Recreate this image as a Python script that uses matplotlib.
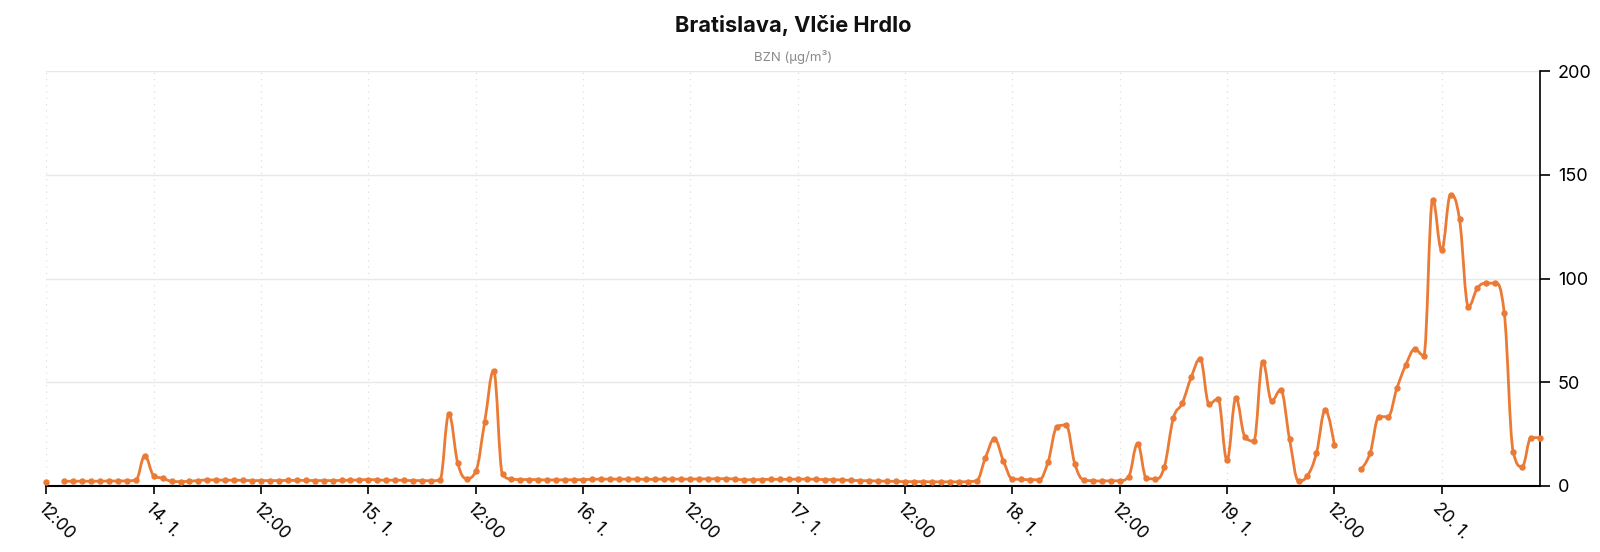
import numpy as np
import pandas as pd
import matplotlib
matplotlib.use('Agg')
import matplotlib.pyplot as plt
import matplotlib.dates as mdates
from matplotlib.path import Path
from matplotlib.patches import PathPatch

plt.rcParams['font.family'] = ['Inter', 'DejaVu Sans']

nan = np.nan

# hodinove hodnoty BZN (ug/m3), 13.1. 12:00 az 20.1. 11:00
jan13 = [2.1, nan, 2.2, 2.3, 2.3, 2.3, 2.3, 2.4, 2.4, 2.5, 2.8, 14.5]  # 12-23h
jan14 = [5.0, 3.7, 2.3, 2.1, 2.3, 2.6, 2.9, 2.9, 2.8, 2.8, 2.7, 2.6,
         2.6, 2.6, 2.6, 2.7, 2.7, 2.7, 2.6, 2.6, 2.6, 2.7, 2.8, 2.9]
jan15 = [3.1, 2.9, 2.8, 2.8, 2.7, 2.6, 2.6, 2.5, 2.9, 34.6, 10.9, 3.6,
         7.0, 30.7, 55.5, 5.6, 3.3, 3.1, 3.1, 3.0, 2.9, 2.9, 3.0, 3.0]
jan16 = [3.1, 3.2, 3.3, 3.3, 3.3, 3.3, 3.3, 3.2, 3.2, 3.3, 3.3, 3.3,
         3.3, 3.4, 3.4, 3.5, 3.5, 3.3, 3.0, 3.0, 3.1, 3.2, 3.2, 3.2]
jan17 = [3.3, 3.3, 3.2, 3.1, 3.0, 2.9, 2.7, 2.6, 2.5, 2.4, 2.3, 2.2,
         2.1, 2.1, 2.1, 2.0, 2.0, 2.0, 2.0, 2.1, 2.5, 13.7, 22.7, 12.1]
jan18 = [3.4, 3.2, 3.0, 3.0, 11.7, 28.6, 29.4, 10.5, 2.9, 2.5, 2.4, 2.5,
         2.5, 4.5, 20.3, 3.7, 3.4, 9.3, 32.6, 39.9, 52.4, 61.3, 39.6, 42.0]
jan19 = [12.5, 42.3, 23.8, 21.7, 60.0, 41.0, 46.3, 22.5, 2.4, 5.0, 15.8, 36.7,
         19.8, nan, nan, 8.0, 15.8, 33.4, 33.4, 47.1, 58.4, 65.9, 62.9, 138.0]
jan20 = [113.8, 140.4, 128.6, 86.5, 95.4, 97.8, 97.8, 83.6, 16.6, 9.3, 23.3, 23.3]  # 0-11h

values = np.array(jan13 + jan14 + jan15 + jan16 + jan17 + jan18 + jan19 + jan20)
times = pd.date_range('2020-01-13 12:00', periods=len(values), freq='h')
x = mdates.date2num(times.to_pydatetime())

color = '#EB7A35'


def spline_segment(xs, ys, smooth=1.5):
    # krivka podobna highcharts "spline"
    n = len(xs)
    d = smooth + 1
    left = [(xs[i], ys[i]) for i in range(n)]
    right = [(xs[i], ys[i]) for i in range(n)]
    for i in range(1, n - 1):
        lx = (smooth * xs[i] + xs[i - 1]) / d
        ly = (smooth * ys[i] + ys[i - 1]) / d
        rx = (smooth * xs[i] + xs[i + 1]) / d
        ry = (smooth * ys[i] + ys[i + 1]) / d
        if rx != lx:
            corr = ((ry - ly) * (rx - xs[i])) / (rx - lx) + ys[i] - ry
            ly += corr
            ry += corr
        if ly > ys[i - 1] and ly > ys[i]:
            ly = max(ys[i - 1], ys[i]); ry = 2 * ys[i] - ly
        elif ly < ys[i - 1] and ly < ys[i]:
            ly = min(ys[i - 1], ys[i]); ry = 2 * ys[i] - ly
        if ry > ys[i + 1] and ry > ys[i]:
            ry = max(ys[i + 1], ys[i]); ly = 2 * ys[i] - ry
        elif ry < ys[i + 1] and ry < ys[i]:
            ry = min(ys[i + 1], ys[i]); ly = 2 * ys[i] - ry
        left[i] = (lx, ly)
        right[i] = (rx, ry)
    verts = [(xs[0], ys[0])]
    codes = [Path.MOVETO]
    for i in range(1, n):
        verts += [right[i - 1], left[i], (xs[i], ys[i])]
        codes += [Path.CURVE4] * 3
    return Path(verts, codes)


fig = plt.figure(figsize=(16, 5.52), dpi=100)
ax = fig.add_axes([0.029, 0.1196, 0.9335, 0.7514])

# rozdelenie na useky bez chybajucich hodnot
ok = ~np.isnan(values)
i = 0
while i < len(values):
    if not ok[i]:
        i += 1
        continue
    j = i
    while j < len(values) and ok[j]:
        j += 1
    if j - i > 1:
        p = spline_segment(list(x[i:j]), list(values[i:j]))
        ax.add_patch(PathPatch(p, facecolor='none', edgecolor=color, lw=2.0,
                               zorder=3, capstyle='round', joinstyle='round'))
    i = j

ax.plot(x, values, 'o', color=color, markersize=3.6, zorder=4, clip_on=False)

ax.set_xlim(x[0], x[-1])
ax.set_ylim(0, 200)
ax.set_yticks([0, 50, 100, 150, 200])

tick_times = pd.date_range('2020-01-13 12:00', '2020-01-20 00:00', freq='12h')
tick_labels = ['12:00' if t.hour == 12 else f'{t.day}. {t.month}.' for t in tick_times]
ax.set_xticks(mdates.date2num(tick_times.to_pydatetime()))
ax.set_xticklabels(tick_labels, rotation=-45, ha='left', va='top',
                   rotation_mode='anchor', fontsize=12.5)

ax.yaxis.tick_right()
ax.tick_params(axis='y', labelsize=13, length=7, width=1.2, pad=6, colors='black')
ax.tick_params(axis='x', length=6, width=1.2, pad=4, colors='black')

for s in ['left', 'top']:
    ax.spines[s].set_visible(False)
ax.spines['right'].set_linewidth(1.2)
ax.spines['bottom'].set_linewidth(1.5)

ax.grid(axis='y', color='#e8e8e8', lw=1)
ax.grid(axis='x', color='#dedede', lw=0.9, linestyle=(0, (1, 4)))
ax.set_axisbelow(True)

fig.text(0.4956, 0.953, 'Bratislava, Vlčie Hrdlo', ha='center', va='center',
         fontsize=15.7, fontweight='bold', color='#111111')
fig.text(0.4956, 0.897, 'BZN (µg/m³)', ha='center', va='center',
         fontsize=9.5, color='#8a8a8a')

fig.savefig('out.png', dpi=100)
